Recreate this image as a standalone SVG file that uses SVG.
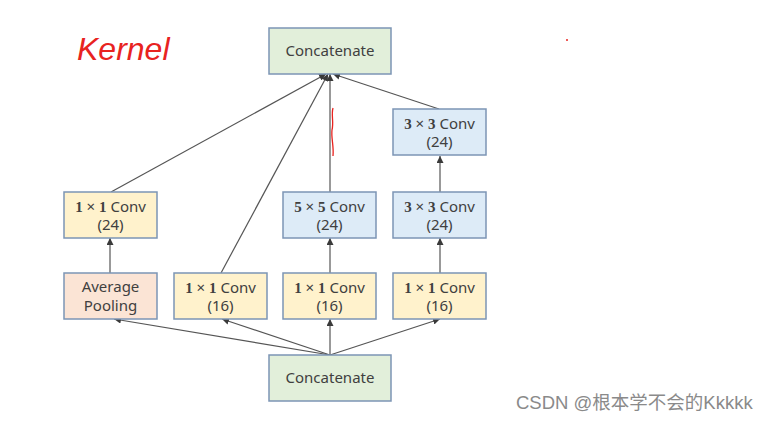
<svg xmlns="http://www.w3.org/2000/svg" width="774" height="421" viewBox="0 0 774 421">
<defs>
<marker id="ah" viewBox="0 0 10 10" refX="10" refY="5" markerWidth="7" markerHeight="7" markerUnits="userSpaceOnUse" orient="auto">
<path d="M0,0 L10,5 L0,10 z" fill="#3a3a3a"/>
</marker>
<style>
.box{stroke:#7c95b5;stroke-width:1.5}
.g{fill:#e2efda}.y{fill:#fff2cc}.p{fill:#fbe4d5}.b{fill:#ddebf7}
.t{font-family:"Noto Sans","Open Sans",sans-serif;font-size:15px;fill:#404040;text-anchor:middle}
.d{font-family:"Liberation Serif",serif;font-weight:bold}
.c{stroke:#555;stroke-width:1.2;fill:none;marker-end:url(#ah)}
</style>
</defs>
<rect width="774" height="421" fill="#ffffff"/>
<g id="connectors">
<line class="c" x1="330" y1="355" x2="114" y2="319"/>
<line class="c" x1="330" y1="355" x2="222" y2="319"/>
<line class="c" x1="330" y1="355" x2="330" y2="319"/>
<line class="c" x1="330" y1="355" x2="440" y2="319"/>
<line class="c" x1="110" y1="273" x2="110" y2="238"/>
<line class="c" x1="330" y1="273" x2="330" y2="238"/>
<line class="c" x1="440" y1="273" x2="440" y2="238"/>
<line class="c" x1="440" y1="192" x2="440" y2="156"/>
<line class="c" x1="111" y1="192" x2="326" y2="74"/>
<line class="c" x1="221" y1="273" x2="328" y2="74"/>
<line class="c" x1="330" y1="192" x2="330" y2="74"/>
<line class="c" x1="439" y1="109" x2="333" y2="74"/>
</g>
<g id="concat-top">
<rect class="box g" x="269" y="28" width="122" height="46"/>
<text class="t" x="330" y="56">Concatenate</text>
</g>
<g id="conv3-top">
<rect class="box b" x="393" y="109" width="93" height="46"/>
<text class="t" x="439.5" y="129"><tspan class="d">3</tspan> × <tspan class="d">3</tspan> Conv</text>
<text class="t" x="439.5" y="147">(24)</text>
</g>
<g id="conv1-24">
<rect class="box y" x="64" y="192" width="93" height="46"/>
<text class="t" x="110.5" y="212"><tspan class="d">1</tspan> × <tspan class="d">1</tspan> Conv</text>
<text class="t" x="110.5" y="230">(24)</text>
</g>
<g id="conv5">
<rect class="box b" x="283" y="192" width="93" height="46"/>
<text class="t" x="329.5" y="212"><tspan class="d">5</tspan> × <tspan class="d">5</tspan> Conv</text>
<text class="t" x="329.5" y="230">(24)</text>
</g>
<g id="conv3-mid">
<rect class="box b" x="393" y="192" width="93" height="46"/>
<text class="t" x="439.5" y="212"><tspan class="d">3</tspan> × <tspan class="d">3</tspan> Conv</text>
<text class="t" x="439.5" y="230">(24)</text>
</g>
<g id="avgpool">
<rect class="box p" x="64" y="273" width="93" height="46"/>
<text class="t" x="110.5" y="292">Average</text>
<text class="t" x="110.5" y="311">Pooling</text>
</g>
<g id="conv1-a">
<rect class="box y" x="174" y="273" width="93" height="46"/>
<text class="t" x="220.5" y="293"><tspan class="d">1</tspan> × <tspan class="d">1</tspan> Conv</text>
<text class="t" x="220.5" y="311">(16)</text>
</g>
<g id="conv1-b">
<rect class="box y" x="283" y="273" width="93" height="46"/>
<text class="t" x="329.5" y="293"><tspan class="d">1</tspan> × <tspan class="d">1</tspan> Conv</text>
<text class="t" x="329.5" y="311">(16)</text>
</g>
<g id="conv1-c">
<rect class="box y" x="393" y="273" width="93" height="46"/>
<text class="t" x="439.5" y="293"><tspan class="d">1</tspan> × <tspan class="d">1</tspan> Conv</text>
<text class="t" x="439.5" y="311">(16)</text>
</g>
<g id="concat-bottom">
<rect class="box g" x="269" y="355" width="122" height="46"/>
<text class="t" x="330" y="383">Concatenate</text>
</g>
<g id="annotations">
<text x="77" y="60" font-family="'Liberation Sans',sans-serif" font-style="italic" font-weight="300" font-size="32" fill="#e8231f">Kernel</text>
<path d="M333,108 C331,115 334,122 332,130 C331,138 334,146 333,156" stroke="#e8231f" stroke-width="1.3" fill="none"/>
<circle cx="567" cy="40" r="1" fill="#e8231f"/>
<text x="516" y="409" font-family="'Liberation Sans','Noto Sans CJK SC',sans-serif" font-size="18.5" fill="#8a8a8a">CSDN @根本学不会的Kkkkk</text>
</g>
</svg>
